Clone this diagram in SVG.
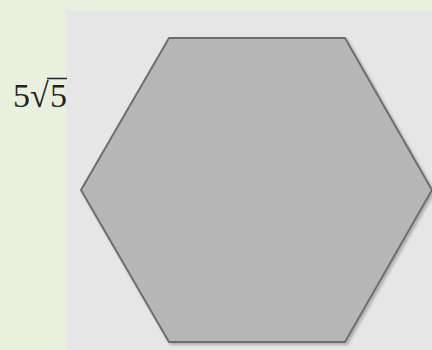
<svg xmlns="http://www.w3.org/2000/svg" width="432" height="350" viewBox="0 0 432 350">
<defs>
<filter id="sh" x="-10%" y="-10%" width="120%" height="120%">
<feGaussianBlur in="SourceAlpha" stdDeviation="1.5"/>
<feOffset dx="2" dy="2" result="b"/>
<feComponentTransfer><feFuncA type="linear" slope="0.25"/></feComponentTransfer>
<feMerge><feMergeNode/><feMergeNode in="SourceGraphic"/></feMerge>
</filter>
<style>
.lbl{font-family:"Liberation Serif","DejaVu Serif",serif;font-size:34px;fill:#222}
</style>
</defs>
<rect x="0" y="0" width="432" height="350" fill="#eaf0de"/>
<rect x="66" y="10" width="366" height="340" fill="#e6e6e6"/>
<g id="hexagon" filter="url(#sh)">
<polygon points="169,38 345,38 432,190 345,342 169,342 81,190" fill="#b6b6b6" stroke="#6e6e6e" stroke-width="2" stroke-linejoin="miter"/>
</g>
<g id="label">
<text class="lbl" y="107"><tspan x="13">5</tspan><tspan x="30">√</tspan><tspan x="50">5</tspan></text>
<line x1="47" y1="78.5" x2="67" y2="78.5" stroke="#222" stroke-width="1.5"/>
</g>
</svg>
